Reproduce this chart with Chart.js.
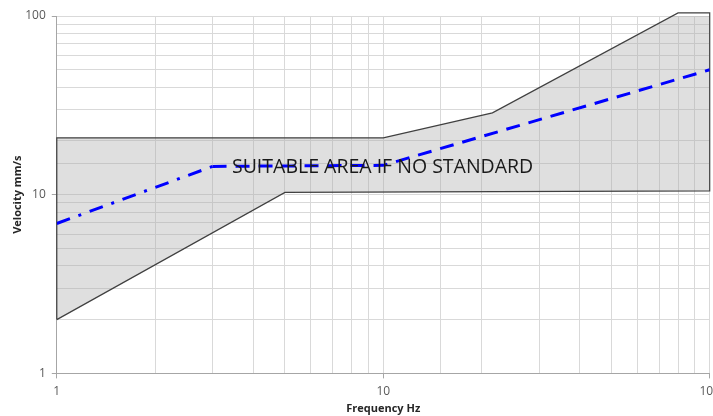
<!DOCTYPE html>
<html>
<head>
<meta charset="utf-8">
<script src="https://cdn.jsdelivr.net/npm/chart.js@4.4.0/dist/chart.umd.min.js"></script>
<style>
  html, body { margin: 0; padding: 0; background: #fff; overflow: hidden; }
  #wrap { width: 726px; height: 416px; }
</style>
</head>
<body>
<div id="wrap"><canvas id="chart"></canvas></div>
<script>
// suitable area outline (Hz, mm/s), closed shape
const areaFreq = [1, 1, 10, 21.6, 80, 100, 100, 5, 1];
const areaVel = [2, 20.8, 20.8, 28.7, 104, 104, 10.5, 10.3, 2];

// blue reference curve
const curveFreq = [1, 3, 10, 100];
const curveVel = [6.9, 14.4, 14.6, 50];

const majorTicks = [1, 10, 100];
const areaLabel = 'SUITABLE AREA IF NO STANDARD';

const toPoints = (xs, ys) => xs.map((x, i) => ({ x: x, y: ys[i] }));

const labelPlugin = {
    id: 'areaLabel',
    afterDatasetsDraw(chart) {
        const { ctx, scales } = chart;
        ctx.save();
        ctx.font = '19.5px "Open Sans", sans-serif';
        ctx.fillStyle = '#1a1a1a';
        ctx.textAlign = 'left';
        ctx.textBaseline = 'middle';
        ctx.fillText(areaLabel, scales.x.getPixelForValue(3.44), scales.y.getPixelForValue(14.3));
        ctx.restore();
    }
};

const tickText = (value) => majorTicks.includes(value) ? String(value) : '';
const tickMarkColor = c => majorTicks.includes(c.tick && c.tick.value) ? '#a6a6a6' : 'rgba(0,0,0,0)';

new Chart(document.getElementById('chart').getContext('2d'), {
    type: 'line',
    data: {
        datasets: [{
            label: 'Curve',
            data: toPoints(curveFreq, curveVel),
            borderColor: '#0000ff',
            borderWidth: 3,
            pointRadius: 0,
            fill: false,
            segment: {
                borderDash: ctx => ctx.p0DataIndex === 0 ? [14, 9, 3, 9] : [14, 9]
            }
        }, {
            label: 'Suitable area',
            data: toPoints(areaFreq, areaVel),
            borderColor: '#404040',
            borderWidth: 1.2,
            backgroundColor: 'rgba(170, 170, 170, 0.38)',
            pointRadius: 0,
            fill: 'shape',
            clip: false
        }]
    },
    options: {
        responsive: true,
        maintainAspectRatio: false,
        animation: false,
        layout: { padding: { top: 16, left: 11, right: 0, bottom: 1 } },
        plugins: {
            legend: { display: false },
            tooltip: { enabled: false }
        },
        scales: {
            x: {
                type: 'logarithmic',
                min: 1,
                max: 100,
                border: { color: '#a6a6a6' },
                grid: { color: '#d9d9d9', tickLength: 5, tickColor: tickMarkColor },
                ticks: {
                    autoSkip: false,
                    maxRotation: 0,
                    padding: 6,
                    color: '#595959',
                    font: { family: 'Open Sans', size: 12 },
                    callback: tickText
                },
                title: {
                    display: true,
                    text: 'Frequency Hz',
                    color: '#262626',
                    font: { family: 'Open Sans', size: 11, weight: 'bold' },
                    padding: { top: -3, bottom: 0 }
                }
            },
            y: {
                type: 'logarithmic',
                min: 1,
                max: 100,
                border: { color: '#a6a6a6' },
                grid: { color: '#d9d9d9', tickLength: 5, tickColor: tickMarkColor },
                ticks: {
                    autoSkip: false,
                    padding: 6,
                    color: '#595959',
                    font: { family: 'Open Sans', size: 12 },
                    callback: tickText
                },
                title: {
                    display: true,
                    text: 'Velocity mm/s',
                    color: '#262626',
                    font: { family: 'Open Sans', size: 11, weight: 'bold' },
                    padding: { top: 0, bottom: -5 }
                }
            }
        }
    },
    plugins: [labelPlugin]
});
</script>
</body>
</html>
